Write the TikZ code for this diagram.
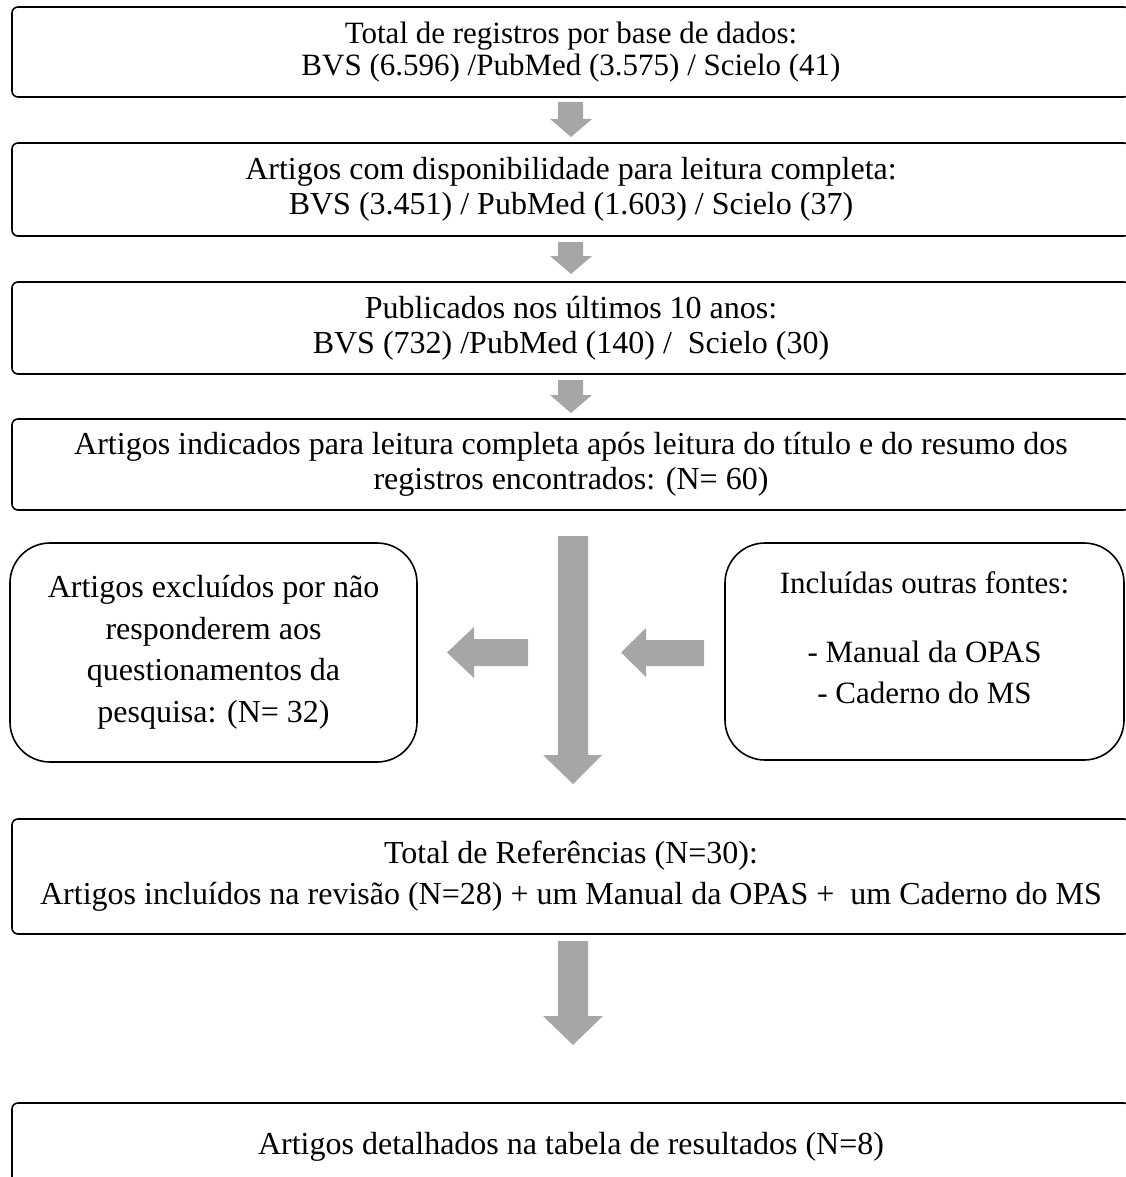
\documentclass[tikz,border=0pt]{standalone}
\usepackage{fontspec}
\setmainfont{Liberation Serif}
\definecolor{arrowgray}{HTML}{A6A6A6}
\begin{document}
\begin{tikzpicture}[x=1pt,y=-1pt,
  mainbox/.style={draw=black,line width=1.6pt,rounded corners=6pt,minimum width=1118pt,inner sep=0pt,align=center,font=\fontsize{32}{35}\selectfont},
  sidebox/.style={draw=black,line width=1.6pt,rounded corners=40pt,inner sep=0pt,align=center,font=\fontsize{32}{41.5}\selectfont},
  plaintext/.style={inner sep=0pt,align=center},
  blockarrow/.style={fill=arrowgray,draw=none}]
\useasboundingbox (0,0) rectangle (1126,1177);
\clip (0,0) rectangle (1126,1177);
\node[mainbox,minimum height=90pt,font=\fontsize{31}{32}\selectfont] (b1) at (571,52) {Total de registros por base de dados:\\BVS (6.596) /PubMed (3.575) / Scielo (41)};
\node[mainbox,minimum height=93pt] (b2) at (571,189.5) {Artigos com disponibilidade para leitura completa:\\BVS (3.451) / PubMed (1.603) / Scielo (37)};
\node[mainbox,minimum height=92pt] (b3) at (571,328) {Publicados nos últimos 10 anos:\\BVS (732) /PubMed (140) /\ \ Scielo (30)};
\node[mainbox,minimum height=91pt] (b4) at (571,464.5) {Artigos indicados para leitura completa após leitura do título e do resumo dos\\registros encontrados: (N= 60)};
\node[sidebox,minimum width=407pt,minimum height=219pt] (l1) at (213.5,652.5) {Artigos excluídos por não\\responderem aos\\questionamentos da\\pesquisa: (N= 32)};
\node[sidebox,minimum width=399pt,minimum height=217pt] (r1) at (924.5,651.5) {};
\node[plaintext,font=\fontsize{31}{41}\selectfont] (r1t) at (924.5,638) {Incluídas outras fontes:\\[28pt]- Manual da OPAS\\- Caderno do MS};
\node[mainbox,minimum height=115pt,font=\fontsize{32}{41}\selectfont] (b5) at (571,876.5) {Total de Referências (N=30):\\Artigos incluídos na revisão (N=28) + um Manual da OPAS +\ \ um Caderno do MS};
\node[mainbox,minimum height=100pt] (b6) at (571,1153) {};
\node[plaintext,font=\fontsize{32}{35}\selectfont,anchor=base] (t6) at (571,1154) {Artigos detalhados na tabela de resultados (N=8)};
% small arrows
\fill[blockarrow] (558,102) -- (583,102) -- (583,119) -- (592,119) -- (571,137) -- (550,119) -- (558,119) -- cycle;
\fill[blockarrow] (558,242) -- (583,242) -- (583,256) -- (592,256) -- (571,274) -- (550,256) -- (558,256) -- cycle;
\fill[blockarrow] (558,380) -- (583,380) -- (583,395) -- (592,395) -- (571,413) -- (550,395) -- (558,395) -- cycle;
% big down arrow
\fill[blockarrow] (558,536) -- (588,536) -- (588,755) -- (602,755) -- (573,784) -- (543,755) -- (558,755) -- cycle;
% left arrows
\fill[blockarrow] (528,639) -- (528,666) -- (474,666) -- (474,678) -- (447,652.5) -- (474,627) -- (474,639) -- cycle;
\fill[blockarrow] (704,640) -- (704,666) -- (646,666) -- (646,677) -- (621,652.5) -- (646,628) -- (646,640) -- cycle;
% bottom arrow
\fill[blockarrow] (558,941) -- (588,941) -- (588,1016) -- (603,1016) -- (573,1045) -- (543,1016) -- (558,1016) -- cycle;
\end{tikzpicture}
\end{document}
